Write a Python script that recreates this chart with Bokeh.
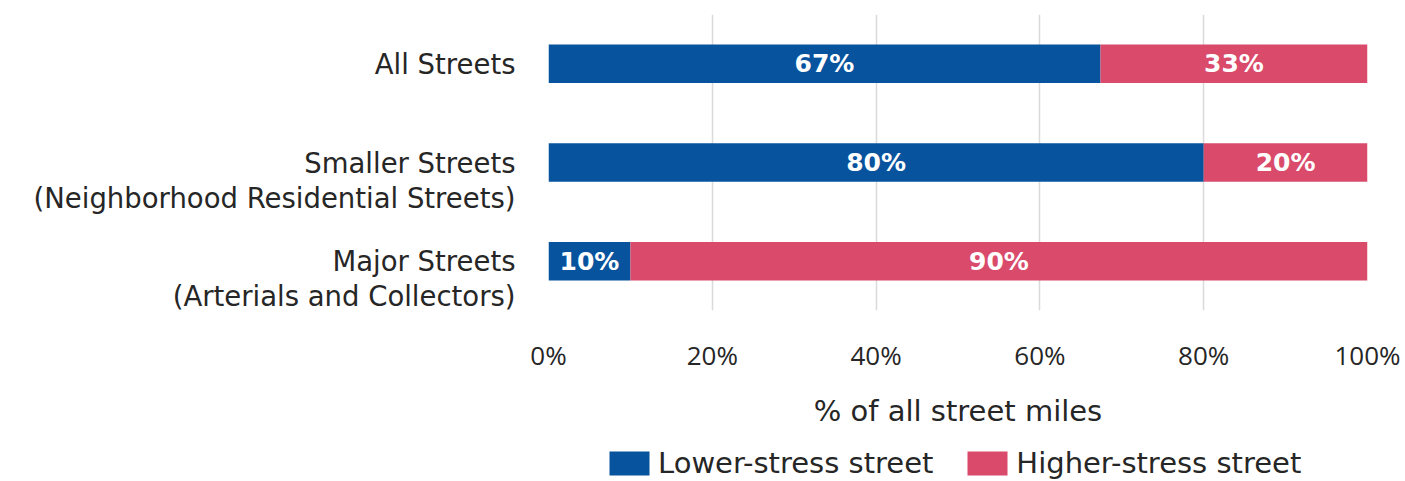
from bokeh.plotting import figure
from bokeh.layouts import row, column
from bokeh.models import ColumnDataSource, Legend, LegendItem, PrintfTickFormatter, FixedTicker, Range1d, FactorRange
from bokeh.core.properties import value
from bokeh.embed import file_html
from bokeh.resources import INLINE

categories = ["All Streets", "Smaller Streets", "Major Streets"]
subtitles = ["", "(Neighborhood Residential Streets)", "(Arterials and Collectors)"]
lower = [67.4, 80.0, 10.0]
higher = [32.6, 20.0, 90.0]
lower_labels = ["67%", "80%", "10%"]
higher_labels = ["33%", "20%", "90%"]
series_names = ["Lower-stress street", "Higher-stress street"]
ticks = [0, 20, 40, 60, 80, 100]

BLUE = "#08539E"
PINK = "#D94A6B"
FONT = "DejaVu Sans"
TICKFONT = "Open Sans"
TXT = "#262626"

factors = list(reversed(categories))
src = ColumnDataSource(dict(
    cat=categories, lower=lower, higher=higher,
    lower_mid=[l / 2 for l in lower],
    higher_mid=[l + h / 2 for l, h in zip(lower, higher)],
    ll=lower_labels, hl=higher_labels,
))

ROW_H = 436
LEFT_W = 518

# ---- main chart ----
p = figure(frame_width=819, frame_height=296, y_range=FactorRange(*factors), x_range=Range1d(0, 100),
           output_backend="svg", toolbar_location=None,
           min_border_left=30, min_border_right=38, min_border_top=14, min_border_bottom=ROW_H - 14 - 296)

r = p.hbar_stack(["lower", "higher"], y="cat", height=0.39, color=[BLUE, PINK], source=src, line_color=None)

for col, lab in (("lower_mid", "ll"), ("higher_mid", "hl")):
    p.text(x=col, y="cat", text=lab, source=src, text_color="white", text_font=value(FONT),
           text_font_style="bold", text_font_size="25px", text_align="center", text_baseline="middle")

p.yaxis.visible = False
p.ygrid.grid_line_color = None
p.xgrid.grid_line_color = "#DADADA"
p.xgrid.grid_line_width = 1.5
p.xgrid.ticker = FixedTicker(ticks=ticks)
p.xaxis.ticker = FixedTicker(ticks=ticks)
p.xaxis.formatter = PrintfTickFormatter(format="%d%%")
p.xaxis.axis_line_color = None
p.xaxis.major_tick_line_color = None
p.xaxis.minor_tick_line_color = None
p.xaxis.major_label_text_font = TICKFONT
p.xaxis.major_label_text_color = TXT
p.xaxis.major_label_text_font_size = "26px"
p.xaxis.major_label_standoff = 20
p.xaxis.axis_label = "% of all street miles"
p.xaxis.axis_label_text_font = FONT
p.xaxis.axis_label_text_font_style = "normal"
p.xaxis.axis_label_text_font_size = "29px"
p.xaxis.axis_label_text_color = TXT
p.xaxis.axis_label_standoff = 18
p.outline_line_color = None

# ---- category labels (left panel) ----
n = len(categories)
ypos = [n - i - 0.5 for i in range(n)]
lab_src = ColumnDataSource(dict(y=ypos, cat=categories, sub=subtitles))
pad = 0.304
q = figure(frame_width=LEFT_W, frame_height=326, x_range=Range1d(0, LEFT_W), y_range=Range1d(-pad, n),
           output_backend="svg", toolbar_location=None,
           min_border_left=0, min_border_right=0, min_border_top=14, min_border_bottom=ROW_H - 14 - 326)
q.text(x=515, y="y", text="cat", source=lab_src, text_align="right", text_baseline="middle",
       text_font=value(FONT), text_font_size="27.5px", text_color=TXT)
q.text(x=515, y="y", text="sub", source=lab_src, text_align="right", text_baseline="middle",
       y_offset=35, text_font=value(FONT), text_font_size="27.5px", text_color=TXT)
q.axis.visible = False
q.grid.grid_line_color = None
q.outline_line_color = None

# ---- legend strip ----
L = figure(frame_width=1405, frame_height=481 - ROW_H, x_range=Range1d(0, 1), y_range=Range1d(0, 1),
           output_backend="svg", toolbar_location=None,
           min_border_left=0, min_border_right=0, min_border_top=0, min_border_bottom=0)
# legend swatch renderers kept outside the visible range of this strip
dummy = [L.hbar(y=[-5], left=[0], right=[1], height=0.5, color=c, line_color=None) for c in (BLUE, PINK)]
L.axis.visible = False
L.grid.grid_line_color = None
L.outline_line_color = None
legend = Legend(items=[LegendItem(label=nm, renderers=[rr]) for nm, rr in zip(series_names, dummy)],
                orientation="horizontal", location=(604, 1),
                label_text_font=FONT, label_text_font_size="29px", label_text_color=TXT,
                glyph_width=50, glyph_height=30, spacing=29, padding=0, margin=0,
                label_standoff=4, border_line_color=None, background_fill_alpha=0)
L.add_layout(legend)

layout = column(row(q, p, spacing=0), L, spacing=0)
open("out.html", "w").write(file_html(layout, INLINE))
